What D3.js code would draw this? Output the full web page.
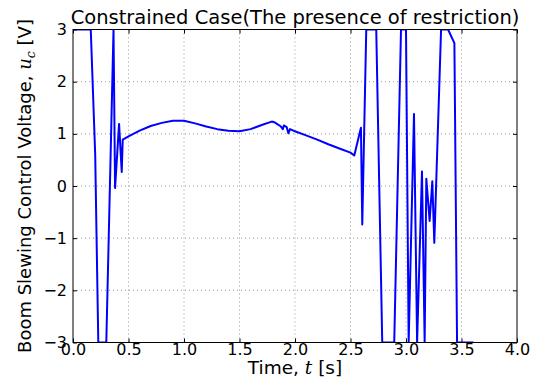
<!DOCTYPE html>
<html>
<head>
<meta charset="utf-8">
<script src="https://cdn.jsdelivr.net/npm/d3@7"></script>
<style>
    body { margin: 0; background: #fff; }
    #chart { width: 537px; height: 380px; }
    text { font-family: "DejaVu Sans", sans-serif; fill: #000; }
</style>
</head>
<body>
<div id="chart"></div>
<script>

// time [s]
let times = [0.00, 0.16, 0.20, 0.228, 0.30, 0.365, 0.379, 0.415, 0.439, 0.448,
    0.50, 0.60, 0.70, 0.80, 0.90, 1.00, 1.10, 1.20, 1.30, 1.40, 1.50, 1.60, 1.70,
    1.79, 1.82, 1.87, 1.89, 1.90, 1.925, 1.94, 1.955, 1.986,
    2.10, 2.20, 2.30, 2.40, 2.50, 2.534, 2.594, 2.606, 2.642, 2.732, 2.786, 2.894,
    2.955, 3.00, 3.024, 3.072, 3.10, 3.144, 3.168, 3.183, 3.213, 3.237, 3.255,
    3.316, 3.379, 3.436, 3.46, 3.61];

// control voltage u_c [V]
let voltages = [3, 3, 0.6, -3, -3, 3, -0.04, 1.19, 0.27, 0.89,
    0.95, 1.06, 1.15, 1.21, 1.25, 1.25, 1.20, 1.14, 1.09, 1.06, 1.05, 1.09, 1.17,
    1.235, 1.216, 1.146, 1.09, 1.16, 1.13, 1.01, 1.09, 1.06,
    0.97, 0.89, 0.80, 0.72, 0.64, 0.584, 1.115, -0.74, 3, 3, -3, -3,
    3, 3, -3, 1.38, -3, 0.28, -3, 0.14, -0.67, 0.09, -1.09,
    3, 3, 2.74, -3, -3];

let xTicks = [0, 0.5, 1, 1.5, 2, 2.5, 3, 3.5, 4];
let yTicks = [-3, -2, -1, 0, 1, 2, 3];

let chartTitle = "Constrained Case(The presence of restriction)";


class ControlVis {

    constructor(parentElement) {
        this.parentElement = parentElement;
        this.initVis();
    }

    initVis() {
        let vis = this;

        vis.margin = {top: 29.5, right: 20, bottom: 37.5, left: 73};
        vis.width = 537 - vis.margin.left - vis.margin.right;
        vis.height = 380 - vis.margin.top - vis.margin.bottom;

        vis.svg = d3.select("#" + vis.parentElement).append("svg")
            .attr("width", 537)
            .attr("height", 380)
            .append("g")
            .attr("transform", `translate(${vis.margin.left}, ${vis.margin.top})`);

        vis.x = d3.scaleLinear().domain([0, 4]).range([0, vis.width]);
        vis.y = d3.scaleLinear().domain([-3, 3]).range([vis.height, 0]);

        vis.svg.append("clipPath").attr("id", "plot-clip")
            .append("rect")
            .attr("width", vis.width)
            .attr("height", vis.height);

        // grid
        vis.svg.append("g").attr("class", "grid")
            .selectAll("line.vx")
            .data(xTicks.slice(1, -1))
            .enter().append("line")
            .attr("x1", d => vis.x(d)).attr("x2", d => vis.x(d))
            .attr("y1", 0).attr("y2", vis.height);
        vis.svg.select(".grid")
            .selectAll("line.hy")
            .data(yTicks.slice(1, -1))
            .enter().append("line")
            .attr("x1", 0).attr("x2", vis.width)
            .attr("y1", d => vis.y(d)).attr("y2", d => vis.y(d));
        vis.svg.selectAll(".grid line")
            .attr("stroke", "#999")
            .attr("stroke-width", 1)
            .attr("stroke-dasharray", "1,3");

        // axes (ticks pointing inward, all four sides)
        let fmt = d => d3.format(".1f")(d);
        let yFmt = d => d < 0 ? "\u2212" + Math.abs(d) : String(d);

        vis.xAxisGroup = vis.svg.append("g")
            .attr("transform", `translate(0, ${vis.height})`)
            .call(d3.axisBottom(vis.x).tickValues(xTicks).tickFormat(fmt).tickSizeInner(-4).tickSizeOuter(0).tickPadding(4));
        vis.xTopGroup = vis.svg.append("g")
            .call(d3.axisTop(vis.x).tickValues(xTicks).tickFormat("").tickSizeInner(-4).tickSizeOuter(0));
        vis.yAxisGroup = vis.svg.append("g")
            .call(d3.axisLeft(vis.y).tickValues(yTicks).tickFormat(yFmt).tickSizeInner(-4).tickSizeOuter(0).tickPadding(6));
        vis.yRightGroup = vis.svg.append("g")
            .attr("transform", `translate(${vis.width}, 0)`)
            .call(d3.axisRight(vis.y).tickValues(yTicks).tickFormat("").tickSizeInner(-4).tickSizeOuter(0));

        vis.svg.selectAll(".domain").remove();
        vis.svg.selectAll(".tick line").attr("stroke", "#000");
        vis.svg.selectAll(".tick text").style("font-size", "16px");
        vis.xAxisGroup.selectAll(".tick text").attr("dy", "0.5em");

        // line
        vis.line = d3.line()
            .x(d => vis.x(d[0]))
            .y(d => vis.y(d[1]));

        vis.svg.append("path")
            .datum(d3.zip(times, voltages))
            .attr("clip-path", "url(#plot-clip)")
            .attr("fill", "none")
            .attr("stroke", "#0000ff")
            .attr("stroke-width", 2)
            .attr("stroke-linejoin", "round")
            .attr("d", vis.line);

        // frame
        vis.svg.append("rect")
            .attr("width", vis.width)
            .attr("height", vis.height)
            .attr("fill", "none")
            .attr("stroke", "#000")
            .attr("stroke-width", 1);

        // title
        vis.svg.append("text")
            .attr("x", vis.width / 2)
            .attr("y", -6)
            .attr("text-anchor", "middle")
            .style("font-size", "19.5px")
            .text(chartTitle);

        // x label
        let xl = vis.svg.append("text")
            .attr("x", vis.width / 2)
            .attr("y", vis.height + 31)
            .attr("text-anchor", "middle")
            .style("font-size", "18.5px");
        xl.append("tspan").text("Time, ");
        xl.append("tspan").attr("font-family", "DejaVu Serif").style("font-style", "italic").text("t");
        xl.append("tspan").text(" [s]");

        // y label
        let yl = vis.svg.append("text")
            .attr("transform", `translate(-42, ${vis.height / 2}) rotate(-90)`)
            .attr("text-anchor", "middle")
            .style("font-size", "18px");
        yl.append("tspan").text("Boom Slewing Control Voltage, ");
        yl.append("tspan").attr("font-family", "DejaVu Serif").style("font-style", "italic").text("u");
        yl.append("tspan").attr("font-family", "DejaVu Serif").style("font-style", "italic")
            .style("font-size", "12.5px").attr("dy", 4).text("c");
        yl.append("tspan").attr("dy", -4).text(" [V]");
    }
}

let controlVis = new ControlVis("chart");
</script>
</body>
</html>
